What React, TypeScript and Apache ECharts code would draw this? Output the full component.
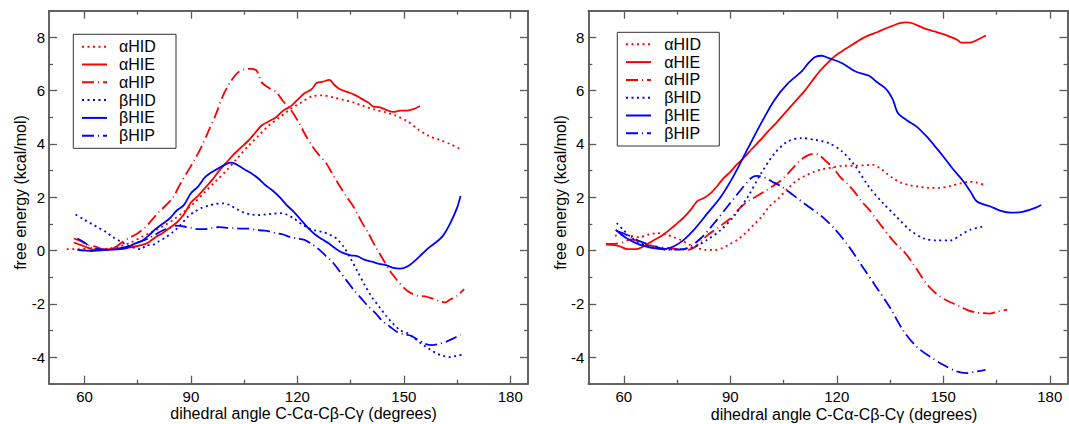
import React, { useEffect, useRef } from "react";
import * as echarts from "echarts";

const FONT = '"Liberation Sans", Arial, Helvetica, sans-serif';
const FRAME = "#5a5a5a";
const RED = "#ff0000";
const BLUE = "#0000ff";

const seriesNames = ["αHID", "αHIE", "αHIP", "βHID", "βHIE", "βHIP"];
const xTitle = "dihedral angle C-Cα-Cβ-Cγ (degrees)";
const yTitle = "free energy (kcal/mol)";
const xMajorTicks = [60, 90, 120, 150, 180];
const xMinorTicks = [75, 105, 135, 165];
const yMajorTicks = [-4, -2, 0, 2, 4, 6, 8];
const yMinorTicks = [-3, -1, 1, 3, 5, 7];

// ---------- left panel ----------
const leftAlphaHID = [[55,0.05],[58,0.05],[61,0.07],[64,0.05],[67,0.08],[70,0.15],[73,0.3],[76,0.5],[79,0.7],[82,0.9],[85,1.15],[88,1.45],[91,1.8],[94,2.2],[97,2.6],[100,3.0],[103,3.45],[106,3.9],[109,4.3],[112,4.7],[115,5.0],[118,5.3],[121,5.55],[124,5.78],[127,5.82],[130,5.75],[133,5.65],[136,5.55],[139,5.4],[142,5.28],[145,5.18],[148,5.05],[151,4.85],[154,4.55],[157,4.3],[160,4.15],[163,4.0],[166,3.8]];
const leftAlphaHIE = [[57,0.3],[59,0.2],[61,0.1],[63,0.02],[65,0.02],[67,0.05],[70,0.08],[73,0.12],[76,0.2],[78,0.3],[80,0.5],[82,0.65],[84,0.85],[86,1.05],[88,1.35],[90,1.8],[92,2.05],[94,2.35],[96,2.65],[98,3.0],[100,3.3],[102,3.6],[104,3.85],[106,4.1],[108,4.4],[110,4.7],[112,4.85],[114,5.0],[116,5.25],[118,5.4],[120,5.65],[122,5.9],[124,6.05],[125.5,6.3],[127,6.33],[129,6.4],[130.5,6.2],[132,6.05],[134,5.95],[136,5.85],[138,5.7],[140,5.55],[141.5,5.4],[143,5.38],[145,5.28],[147,5.2],[149,5.25],[151,5.25],[153,5.32],[154.5,5.42]];
const leftAlphaHIP = [[57,0.45],[59,0.35],[61,0.2],[63,0.15],[65,0.05],[67,0.05],[69,0.15],[71,0.35],[73,0.5],[75,0.65],[77,0.85],[79,1.15],[81,1.45],[83,1.7],[85,2.0],[87,2.5],[89,2.95],[91,3.4],[93,3.9],[95,4.5],[97,5.1],[99,5.8],[101,6.3],[103,6.65],[105,6.8],[107,6.82],[108.5,6.75],[110,6.3],[112,6.1],[114,5.95],[116,5.6],[118,5.3],[120,4.9],[122,4.4],[124,3.95],[126,3.6],[128,3.3],[130,2.85],[132,2.4],[134,2.0],[136,1.6],[138,1.1],[140,0.65],[142,0.15],[144,-0.3],[146,-0.75],[148,-1.1],[150,-1.4],[152,-1.6],[154,-1.7],[156,-1.72],[158,-1.8],[160,-1.9],[161.5,-1.95],[163,-1.85],[165,-1.7],[167,-1.45]];
const leftBetaHID = [[57.5,1.35],[60,1.15],[62,1.0],[64,0.85],[66,0.7],[68,0.5],[70,0.35],[72,0.2],[74,0.1],[76,0.05],[77.5,0.2],[79,0.2],[81,0.35],[83,0.5],[85,0.7],[87,0.95],[89,1.25],[91,1.45],[93,1.6],[95,1.68],[97,1.75],[99,1.77],[101,1.7],[103,1.55],[105,1.42],[107,1.35],[109,1.33],[111,1.35],[113,1.38],[115,1.4],[117,1.35],[119,1.2],[121,1.0],[123,0.85],[125,0.75],[127,0.7],[129,0.6],[131,0.45],[133,0.15],[135,-0.3],[137,-0.8],[139,-1.3],[141,-1.75],[143,-2.1],[145,-2.45],[147,-2.75],[149,-3.0],[151,-3.1],[153,-3.3],[155,-3.5],[157,-3.68],[159,-3.85],[161,-3.95],[163,-4.0],[165,-3.95],[167,-3.9]];
const leftBetaHIE = [[58,0.02],[60,0.0],[62,-0.02],[64,0.0],[66,0.02],[68,0.03],[70,0.05],[72,0.1],[74,0.25],[76,0.35],[78,0.55],[80,0.8],[82,1.0],[84,1.2],[86,1.5],[88,1.7],[90,2.15],[92,2.4],[94,2.75],[96,2.95],[98,3.1],[100,3.25],[101.5,3.3],[103,3.22],[105,3.05],[107,2.9],[109,2.7],[111,2.45],[113,2.25],[115,2.0],[117,1.7],[119,1.45],[121,1.15],[123,0.85],[125,0.6],[127,0.42],[129,0.25],[131,0.05],[133,-0.1],[135,-0.18],[137,-0.22],[139,-0.35],[141,-0.42],[143,-0.5],[145,-0.55],[147,-0.65],[149,-0.68],[151,-0.6],[153,-0.4],[155,-0.15],[157,0.1],[159,0.3],[161,0.55],[163,1.0],[165,1.6],[166,2.05]];
const leftBetaHIP = [[58,0.45],[60,0.3],[62,0.1],[64,0.05],[66,0.03],[68,0.05],[70,0.08],[72,0.15],[74,0.25],[76,0.35],[78,0.45],[80,0.6],[82,0.75],[84,0.85],[86,0.93],[88,0.9],[90,0.85],[92,0.8],[94,0.8],[96,0.85],[98,0.88],[100,0.85],[102,0.85],[104,0.82],[106,0.82],[108,0.78],[110,0.75],[112,0.72],[114,0.65],[116,0.6],[118,0.5],[120,0.45],[122,0.4],[124,0.25],[126,0.05],[128,-0.2],[130,-0.45],[132,-0.8],[134,-1.15],[136,-1.5],[138,-1.8],[140,-2.1],[142,-2.35],[144,-2.65],[146,-2.85],[148,-3.05],[150,-3.15],[152,-3.2],[154,-3.35],[156,-3.5],[158,-3.55],[160,-3.5],[162,-3.42],[164,-3.3],[166,-3.15]];

// ---------- right panel ----------
const rightAlphaHID = [[57.5,0.55],[60,0.6],[62,0.55],[64.5,0.5],[67,0.6],[69.5,0.65],[72,0.6],[74,0.5],[76,0.4],[78.5,0.22],[81,0.08],[83,0.02],[85.5,0.02],[88,0.1],[90,0.25],[92,0.4],[94,0.62],[96.5,0.95],[99,1.3],[101,1.65],[103.5,1.95],[106,2.3],[108.5,2.6],[111,2.8],[113.5,2.95],[116,3.05],[119,3.12],[122,3.18],[125,3.18],[128,3.2],[130,3.22],[132,3.1],[134,2.9],[136,2.7],[138,2.55],[140.5,2.45],[143,2.4],[146,2.35],[149,2.35],[152,2.42],[155,2.52],[157,2.58],[159.5,2.55],[162,2.43]];
const rightAlphaHIE = [[55,0.22],[57.5,0.2],[59,0.15],[61,0.05],[63.5,0.05],[65.5,0.15],[68,0.35],[71,0.58],[74,0.9],[77,1.25],[79,1.55],[80.7,1.85],[82.6,1.97],[84.5,2.15],[86.5,2.45],[88,2.7],[90,2.95],[92,3.25],[94,3.5],[96,3.8],[98.5,4.15],[100.5,4.45],[102.5,4.72],[105,5.1],[107,5.4],[109,5.7],[111,6.0],[113,6.35],[115,6.7],[117.5,7.05],[119.5,7.3],[121.5,7.48],[123.5,7.65],[125.5,7.82],[127.5,7.98],[129.5,8.1],[131.5,8.2],[133.5,8.32],[135.5,8.42],[137.5,8.52],[139.5,8.56],[141.5,8.52],[143.5,8.4],[145.5,8.3],[147.5,8.22],[150,8.12],[152,8.02],[154,7.9],[155,7.8],[157.5,7.8],[159.5,7.9],[162,8.07]];
const rightAlphaHIP = [[55,0.25],[57.5,0.25],[60,0.32],[62,0.42],[64,0.35],[66,0.22],[69,0.15],[72,0.1],[75,0.05],[78,0.02],[80,0.12],[82,0.38],[84,0.62],[86,0.8],[88,1.0],[90,1.2],[92,1.5],[94,1.75],[96,1.93],[98,2.08],[100,2.25],[102,2.42],[104,2.6],[106,2.85],[108,3.15],[110,3.42],[112,3.58],[113.5,3.63],[115,3.58],[117,3.35],[119,3.1],[121,2.75],[123,2.5],[125,2.2],[127,1.85],[129,1.55],[131,1.2],[133,0.85],[135,0.5],[137,0.2],[139,-0.05],[141,-0.4],[143,-0.8],[145,-1.2],[147,-1.5],[149,-1.72],[151,-1.88],[153,-2.0],[155,-2.12],[157,-2.25],[159,-2.32],[161,-2.35],[163,-2.37],[165,-2.3],[167,-2.25],[168,-2.22]];
const rightBetaHID = [[58,1.03],[60,0.75],[62,0.5],[64,0.32],[66.5,0.18],[69.3,0.09],[72,0.03],[76,0.05],[80,0.15],[83.5,0.4],[87.4,0.78],[91,1.28],[95,2.03],[98.7,2.9],[102.5,3.65],[106.3,4.1],[110,4.22],[114,4.15],[117.7,4.03],[121.5,3.72],[125.3,3.15],[129,2.4],[133,1.78],[136.7,1.28],[140.5,0.78],[144.3,0.46],[148,0.38],[152,0.38],[155,0.59],[157.6,0.78],[161.4,0.9]];
const rightBetaHIE = [[57.7,0.78],[60.8,0.46],[64.6,0.21],[68.4,0.09],[71.2,0.05],[74,0.15],[76.9,0.4],[79.8,0.78],[83.6,1.4],[87.4,2.03],[91.1,2.84],[95,3.84],[98.7,4.78],[102.5,5.66],[106.3,6.28],[110.1,6.72],[112,7.03],[113.9,7.26],[115.8,7.31],[117.7,7.22],[121.5,7.03],[125.3,6.72],[129.1,6.56],[131,6.35],[133.9,6.06],[135.8,5.66],[137.2,5.16],[139.6,4.9],[142.4,4.66],[145.3,4.28],[148.1,3.84],[150,3.53],[152.9,3.03],[155.7,2.59],[157.6,2.22],[159.5,1.84],[163.3,1.65],[166.2,1.49],[169,1.42],[171.9,1.44],[175.7,1.59],[177.6,1.71]];
const rightBetaHIP = [[57.9,0.74],[60.8,0.59],[64.6,0.34],[67.4,0.21],[70.3,0.09],[74,0.03],[77.9,0.09],[81.7,0.46],[85.5,1.03],[89.2,1.65],[93,2.28],[95.9,2.72],[97.5,2.8],[99.5,2.75],[101.6,2.6],[104.4,2.4],[108.2,2.03],[112,1.65],[115.8,1.28],[119.6,0.78],[123.4,0.15],[127.2,-0.6],[131,-1.35],[134.8,-2.1],[138.6,-2.98],[142.4,-3.6],[146.2,-3.98],[150,-4.29],[153.8,-4.54],[156.7,-4.6],[159.5,-4.54],[161.9,-4.48]];

const leftData = [leftAlphaHID, leftAlphaHIE, leftAlphaHIP, leftBetaHID, leftBetaHIE, leftBetaHIP];
const rightData = [rightAlphaHID, rightAlphaHIE, rightAlphaHIP, rightBetaHID, rightBetaHIE, rightBetaHIP];
const colors = [RED, RED, RED, BLUE, BLUE, BLUE];
const kinds = ["dot", "solid", "dashdot", "dot", "solid", "dashdot"];

function dashOf(kind: string): any {
  if (kind === "dot") return [2, 3.5];
  if (kind === "dashdot") return [12, 4, 1, 4];
  return "solid";
}

function tickStyle(values: number[], len: number) {
  return { show: true, inside: true, length: len, customValues: values, lineStyle: { color: FRAME, width: 1.3 } };
}

function xAxesFor(grid: number) {
  const base = {
    type: "value", gridIndex: grid, min: 50, max: 185,
    splitLine: { show: false },
    axisLine: { show: true, onZero: false, lineStyle: { color: FRAME, width: 1.5 } },
  };
  return [
    { ...base, position: "bottom", axisTick: tickStyle(xMajorTicks, 8),
      axisLabel: { show: true, customValues: xMajorTicks, margin: 5, fontSize: 15, color: "#000", fontFamily: FONT } },
    { ...base, position: "bottom", axisTick: tickStyle(xMinorTicks, 4), axisLabel: { show: false } },
    { ...base, position: "top", axisTick: tickStyle(xMajorTicks, 8), axisLabel: { show: false } },
    { ...base, position: "top", axisTick: tickStyle(xMinorTicks, 4), axisLabel: { show: false } },
  ];
}

function yAxesFor(grid: number) {
  const base = {
    type: "value", gridIndex: grid, min: -5, max: 9,
    splitLine: { show: false },
    axisLine: { show: true, onZero: false, lineStyle: { color: FRAME, width: 1.5 } },
  };
  return [
    { ...base, position: "left", axisTick: tickStyle(yMajorTicks, 8),
      axisLabel: { show: true, customValues: yMajorTicks, margin: 4, fontSize: 15, color: "#000", fontFamily: FONT } },
    { ...base, position: "left", axisTick: tickStyle(yMinorTicks, 4), axisLabel: { show: false } },
    { ...base, position: "right", axisTick: tickStyle(yMajorTicks, 8), axisLabel: { show: false } },
    { ...base, position: "right", axisTick: tickStyle(yMinorTicks, 4), axisLabel: { show: false } },
  ];
}

function seriesFor(datas: number[][][], axisIndex: number) {
  return datas.map((d, i) => ({
    type: "line",
    name: seriesNames[i],
    data: d,
    xAxisIndex: axisIndex,
    yAxisIndex: axisIndex,
    symbol: "none",
    showSymbol: false,
    smooth: 0.3,
    silent: true,
    lineStyle: { color: colors[i], width: 1.8, type: dashOf(kinds[i]) },
    itemStyle: { color: colors[i] },
  }));
}

function legendAt(left: number, top: number, textPad: number, padding: number[]) {
  return {
    show: true,
    orient: "vertical",
    left, top,
    data: seriesNames,
    itemWidth: 25,
    itemHeight: 16,
    itemGap: 1.8,
    padding,
    borderColor: "#333",
    borderWidth: 1,
    backgroundColor: "#fff",
    selectedMode: false,
    itemStyle: { opacity: 0, borderWidth: 0 },
    textStyle: { fontSize: 16, lineHeight: 16, color: "#000", fontFamily: FONT, width: 45, padding: [0, 0, 0, textPad] },
  };
}

function titleText(text: string, x: number, y: number, rot: number) {
  return {
    type: "text", x, y, rotation: rot, silent: true,
    style: { text, fill: "#000", font: `16px ${FONT}`, align: "center", verticalAlign: "middle" },
  };
}

export default function App() {
  const ref = useRef<HTMLDivElement>(null);
  useEffect(() => {
    if (!ref.current) return;
    const chart = echarts.init(ref.current, undefined, { renderer: "svg" });
    const option: any = {
      animation: false,
      backgroundColor: "#fff",
      grid: [
        { left: 49, top: 10.7, width: 479, height: 373 },
        { left: 588.3, top: 10.7, width: 479.2, height: 373 },
      ],
      xAxis: [...xAxesFor(0), ...xAxesFor(1)],
      yAxis: [...yAxesFor(0), ...yAxesFor(1)],
      legend: [
        legendAt(73.3, 34.3, 7, [4.4, 12, 4.6, 7.7]),
        legendAt(617.3, 32.3, 8.3, [4, 10, 4.7, 7.7]),
      ],
      series: [...seriesFor(leftData, 0), ...seriesFor(rightData, 4)],
      graphic: [
        titleText(yTitle, 20.6, 192.5, Math.PI / 2),
        titleText(yTitle, 560.3, 192.5, Math.PI / 2),
        titleText(xTitle, 303.5, 413, 0),
        titleText(xTitle, 844, 414, 0),
      ],
    };
    chart.setOption(option);
    return () => chart.dispose();
  }, []);
  return <div ref={ref} style={{ position: "absolute", left: 0, top: 0, width: 1069, height: 424 }} />;
}
